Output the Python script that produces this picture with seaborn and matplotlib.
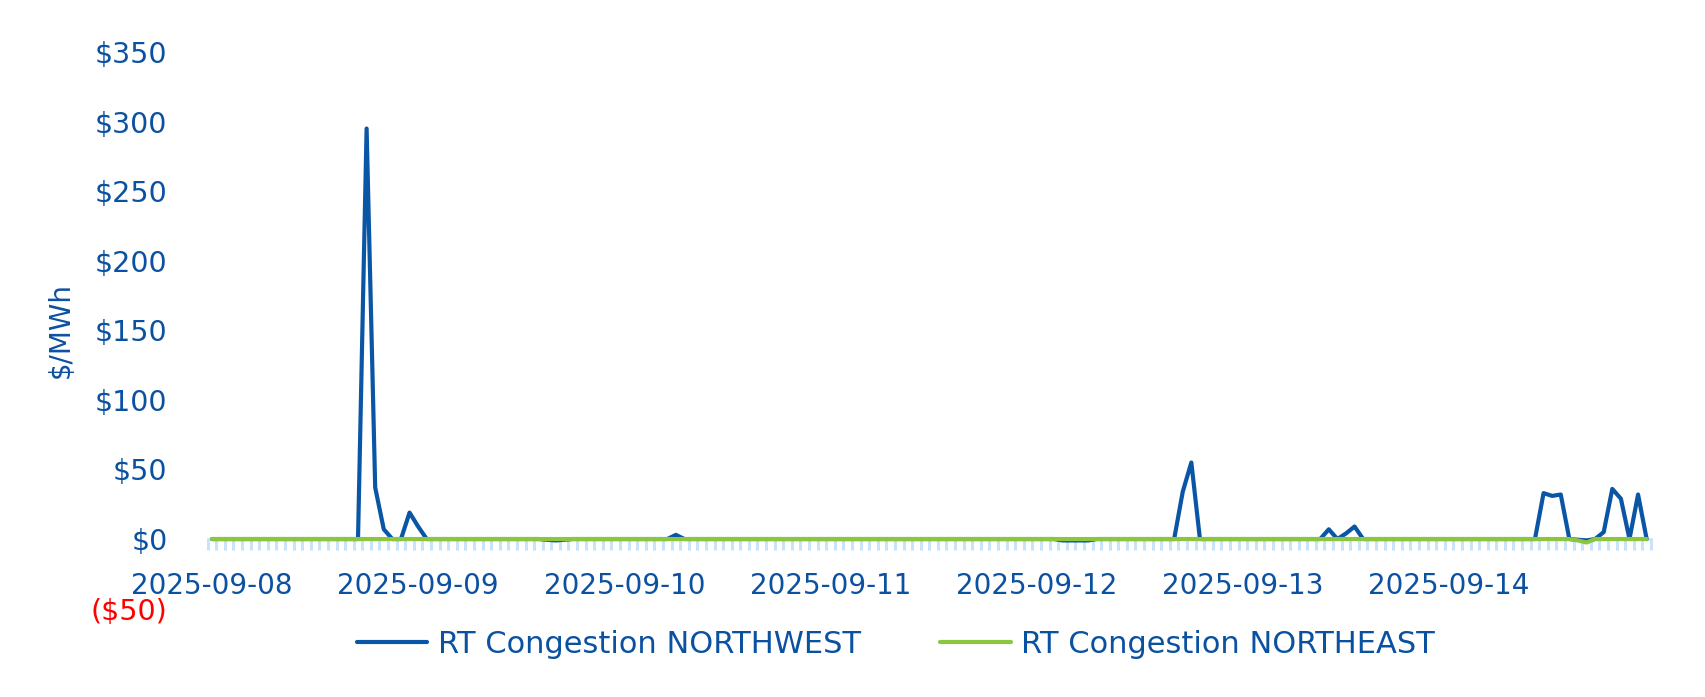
import pandas as pd
import matplotlib.pyplot as plt
import matplotlib.dates as mdates
import matplotlib.ticker as mticker
import seaborn as sns

# Hourly RT congestion values, one row per day (24 hours each)
northwest = [
    0, 0, 0, 0, 0, 0, 0, 0, 0, 0, 0, 0, 0, 0, 0, 0, 0, 0, 295, 37, 7, 0, 0, 19,
    9, 0, 0, 0, 0, 0, 0, 0, 0, 0, 0, 0, 0, 0, 0, -0.5, -1, -0.5, 0, 0, 0, 0, 0, 0,
    0, 0, 0, 0, 0, 0, 3, 0, 0, 0, 0, 0, 0, 0, 0, 0, 0, 0, 0, 0, 0, 0, 0, 0,
    0, 0, 0, 0, 0, 0, 0, 0, 0, 0, 0, 0, 0, 0, 0, 0, 0, 0, 0, 0, 0, 0, 0, 0,
    0, 0, 0, -1, -1, -1, -1, 0, 0, 0, 0, 0, 0, 0, 0, 0, 0, 34, 55, 0, 0, 0, 0, 0,
    0, 0, 0, 0, 0, 0, 0, 0, 0, 0, 7, 0, 4, 9, 0, 0, 0, 0, 0, 0, 0, 0, 0, 0,
    0, 0, 0, 0, 0, 0, 0, 0, 0, 0, 0, 33, 31, 32, 0, -0.5, -1, 0, 5, 36, 29, 0, 32, 0,
]
northeast = [
    0, 0, 0, 0, 0, 0, 0, 0, 0, 0, 0, 0, 0, 0, 0, 0, 0, 0, 0, 0, 0, 0, 0, 0,
    0, 0, 0, 0, 0, 0, 0, 0, 0, 0, 0, 0, 0, 0, 0, 0, 0, 0, 0, 0, 0, 0, 0, 0,
    0, 0, 0, 0, 0, 0, 0, 0, 0, 0, 0, 0, 0, 0, 0, 0, 0, 0, 0, 0, 0, 0, 0, 0,
    0, 0, 0, 0, 0, 0, 0, 0, 0, 0, 0, 0, 0, 0, 0, 0, 0, 0, 0, 0, 0, 0, 0, 0,
    0, 0, 0, 0, 0, 0, 0, 0, 0, 0, 0, 0, 0, 0, 0, 0, 0, 0, 0, 0, 0, 0, 0, 0,
    0, 0, 0, 0, 0, 0, 0, 0, 0, 0, 0, 0, 0, 0, 0, 0, 0, 0, 0, 0, 0, 0, 0, 0,
    0, 0, 0, 0, 0, 0, 0, 0, 0, 0, 0, 0, 0, 0, 0, -1, -2.5, 0, 0, 0, 0, 0, 0, 0,
]
start_date = "2025-09-08"
series_names = ["RT Congestion NORTHWEST", "RT Congestion NORTHEAST"]
y_ticks = [-50, 0, 50, 100, 150, 200, 250, 300, 350]

text_blue = "#0B51A1"
line_colors = ["#0A55A5", "#8CC63F"]
tick_blue = "#C8E3FB"

# Build long-form table
hours = pd.date_range(start_date, periods=len(northwest), freq="h")
df = pd.DataFrame({"Time": hours, series_names[0]: northwest, series_names[1]: northeast})
long_df = df.melt(id_vars="Time", var_name="Series", value_name="Value")

sns.set_style("white")
plt.rcParams["font.family"] = ["DejaVu Sans"]

fig = plt.figure(figsize=(17.05, 6.97), dpi=100)
ax = fig.add_axes([0.1218, 0.1268, 0.8465, 0.7986])

sns.lineplot(data=long_df, x="Time", y="Value", hue="Series", palette=line_colors,
             linewidth=3, ax=ax, legend=False)

# Axis limits and spine at zero
half_hour = pd.Timedelta(minutes=30)
ax.set_xlim(hours[0] - half_hour, hours[-1] + half_hour)
ax.set_ylim(-50, 350)
for side in ["top", "right", "left"]:
    ax.spines[side].set_visible(False)
ax.spines["bottom"].set_position(("data", 0))
ax.spines["bottom"].set_color(tick_blue)
ax.spines["bottom"].set_linewidth(2)
ax.spines["bottom"].set_zorder(0)

# X ticks: day labels, hourly minor marks
ax.xaxis.set_major_locator(mdates.DayLocator())
ax.xaxis.set_major_formatter(mdates.DateFormatter("%Y-%m-%d"))
minor = pd.date_range(hours[0] - half_hour, periods=len(hours) + 1, freq="h")
ax.xaxis.set_minor_locator(mticker.FixedLocator(mdates.date2num(minor)))
ax.tick_params(axis="x", which="major", length=0, pad=24, labelsize=20, labelcolor=text_blue)
ax.tick_params(axis="x", which="minor", bottom=True, length=8, width=2.2, color=tick_blue)

# Y ticks with dollar format
ax.set_yticks(y_ticks)
ax.yaxis.set_major_formatter(mticker.FuncFormatter(
    lambda v, p: f"(${abs(v):.0f})" if v < 0 else f"${v:.0f}"))
ax.tick_params(axis="y", length=0, pad=29, labelsize=20.5, labelcolor=text_blue)
for lbl, v in zip(ax.get_yticklabels(), y_ticks):
    if v < 0:
        lbl.set_color("red")
ax.set_ylabel("$/MWh", fontsize=20, color=text_blue)
ax.yaxis.set_label_coords(-0.092, 0.5)
ax.set_xlabel("")

# Legend below the plot
handles = [plt.Line2D([], [], color=c, linewidth=3) for c in line_colors]
fig.legend(handles, series_names, loc="center", bbox_to_anchor=(0.5255, 0.076), ncol=2,
           frameon=False, fontsize=22, labelcolor=text_blue, handlelength=2.3,
           handletextpad=0.35, columnspacing=2.6)

plt.savefig("out.png", dpi=100)
